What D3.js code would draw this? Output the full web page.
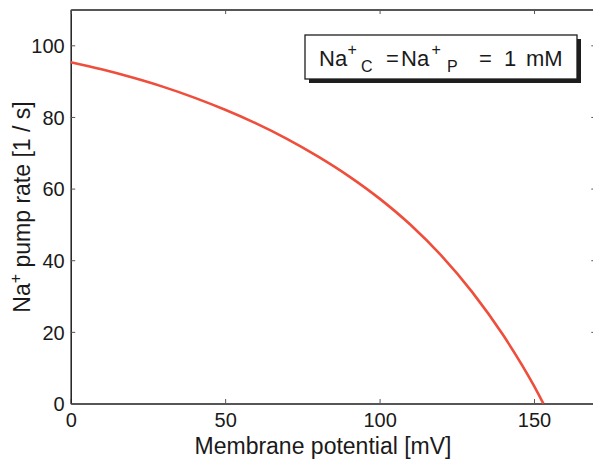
<!DOCTYPE html>
<html>
<head>
<meta charset="utf-8">
<script src="https://cdn.jsdelivr.net/npm/d3@7"></script>
<style>
  html, body { margin: 0; padding: 0; background: #fff; }
  svg { display: block; }
  text { font-family: "Liberation Sans", Arial, Helvetica, sans-serif; fill: #1a1a1a; }
</style>
</head>
<body>
<svg id="chart" width="593" height="459"></svg>
<script>
// Data
const potential = [0, 10, 20, 30, 40, 50, 60, 70, 80, 90, 100, 110, 120, 130, 140, 150, 153];
const pumpRate  = [95.3, 93.3, 91.0, 88.4, 85.4, 82.0, 78.2, 73.9, 69.0, 63.5, 57.2, 49.9, 41.3, 31.1, 19.1, 4.9, 0];
const xTicks = [0, 50, 100, 150];
const yTicks = [0, 20, 40, 60, 80, 100];
const xDomain = [0, 170];
const yDomain = [0, 110];

const svg = d3.select("#chart");
const mLeft = 70.7, mRight = 595.8, mTop = 9.5, mBottom = 403.5;

const x = d3.scaleLinear().domain(xDomain).range([mLeft, mRight]);
const y = d3.scaleLinear().domain(yDomain).range([mBottom, mTop]);

const axisColor = "#1e1e1e";

const gx = svg.append("g").attr("transform", `translate(0,${mBottom})`)
  .call(d3.axisBottom(x).tickValues(xTicks).tickSize(-4.5).tickPadding(12).tickSizeOuter(0));
const gy = svg.append("g").attr("transform", `translate(${mLeft},0)`)
  .call(d3.axisLeft(y).tickValues(yTicks).tickSize(-4.5).tickPadding(6).tickSizeOuter(0));
const gt = svg.append("g").attr("transform", `translate(0,${mTop})`)
  .call(d3.axisTop(x).tickValues(xTicks).tickSize(-4.5).tickFormat("").tickSizeOuter(0));
const gr = svg.append("g").attr("transform", `translate(${mRight},0)`)
  .call(d3.axisRight(y).tickValues(yTicks).tickSize(-4.5).tickFormat("").tickSizeOuter(0));

[gx, gy, gt, gr].forEach(g => {
  g.select(".domain").attr("stroke", axisColor).attr("stroke-width", 1.5);
  g.selectAll(".tick line").attr("stroke", "#555").attr("stroke-width", 1);
  g.selectAll(".tick text").style("font-size", "20px").attr("fill", "#1a1a1a")
    .style("font-family", '"Liberation Sans", Arial, Helvetica, sans-serif');
});
gx.selectAll(".tick text").attr("dy", "0.71em").attr("y", 9);
gy.selectAll(".tick text").attr("dy", "0.36em");

// Curve
const line = d3.line()
  .x((d, i) => x(potential[i]))
  .y(d => y(d))
  .curve(d3.curveMonotoneX);
svg.append("path")
  .datum(pumpRate)
  .attr("fill", "none")
  .attr("stroke", "#ee4e3b")
  .attr("stroke-width", 2.6)
  .attr("d", line);

// Axis labels
svg.append("text")
  .attr("x", 323).attr("y", 454)
  .attr("text-anchor", "middle")
  .style("font-size", "23px")
  .text("Membrane potential [mV]");

const yl = svg.append("text")
  .attr("transform", "translate(30,207) rotate(-90)")
  .attr("text-anchor", "middle")
  .style("font-size", "23px");
yl.append("tspan").text("Na");
yl.append("tspan").attr("dy", -9).style("font-size", "16px").text("+");
yl.append("tspan").attr("dy", 9).text(" pump rate [1 / s]");

// Legend box with shadow
const bx = 305, by = 35, bw = 272, bh = 44;
svg.append("rect").attr("x", bx + 4).attr("y", by + 4).attr("width", bw).attr("height", bh)
  .attr("fill", "#1e1e1e");
svg.append("rect").attr("x", bx).attr("y", by).attr("width", bw).attr("height", bh)
  .attr("fill", "#fff").attr("stroke", "#1e1e1e").attr("stroke-width", 1.3);

const lt = svg.append("text").attr("y", 65.7).style("font-size", "22px");
const big = 22, small = 16;
const pieces = [
  {t: "Na", x: 319, y: 65.7, s: big},
  {t: "+", x: 347.5, y: 54.5, s: small},
  {t: "C", x: 361, y: 71.7, s: small},
  {t: "=", x: 386, y: 65.7, s: big},
  {t: "Na", x: 401, y: 65.7, s: big},
  {t: "+", x: 431.5, y: 54.5, s: small},
  {t: "P", x: 447, y: 71.7, s: small},
  {t: "=", x: 479, y: 65.7, s: big},
  {t: "1", x: 504, y: 65.7, s: big},
  {t: "mM", x: 526, y: 65.7, s: big}
];
pieces.forEach(p => {
  lt.append("tspan").attr("x", p.x).attr("y", p.y).style("font-size", p.s + "px").text(p.t);
});
</script>
</body>
</html>
